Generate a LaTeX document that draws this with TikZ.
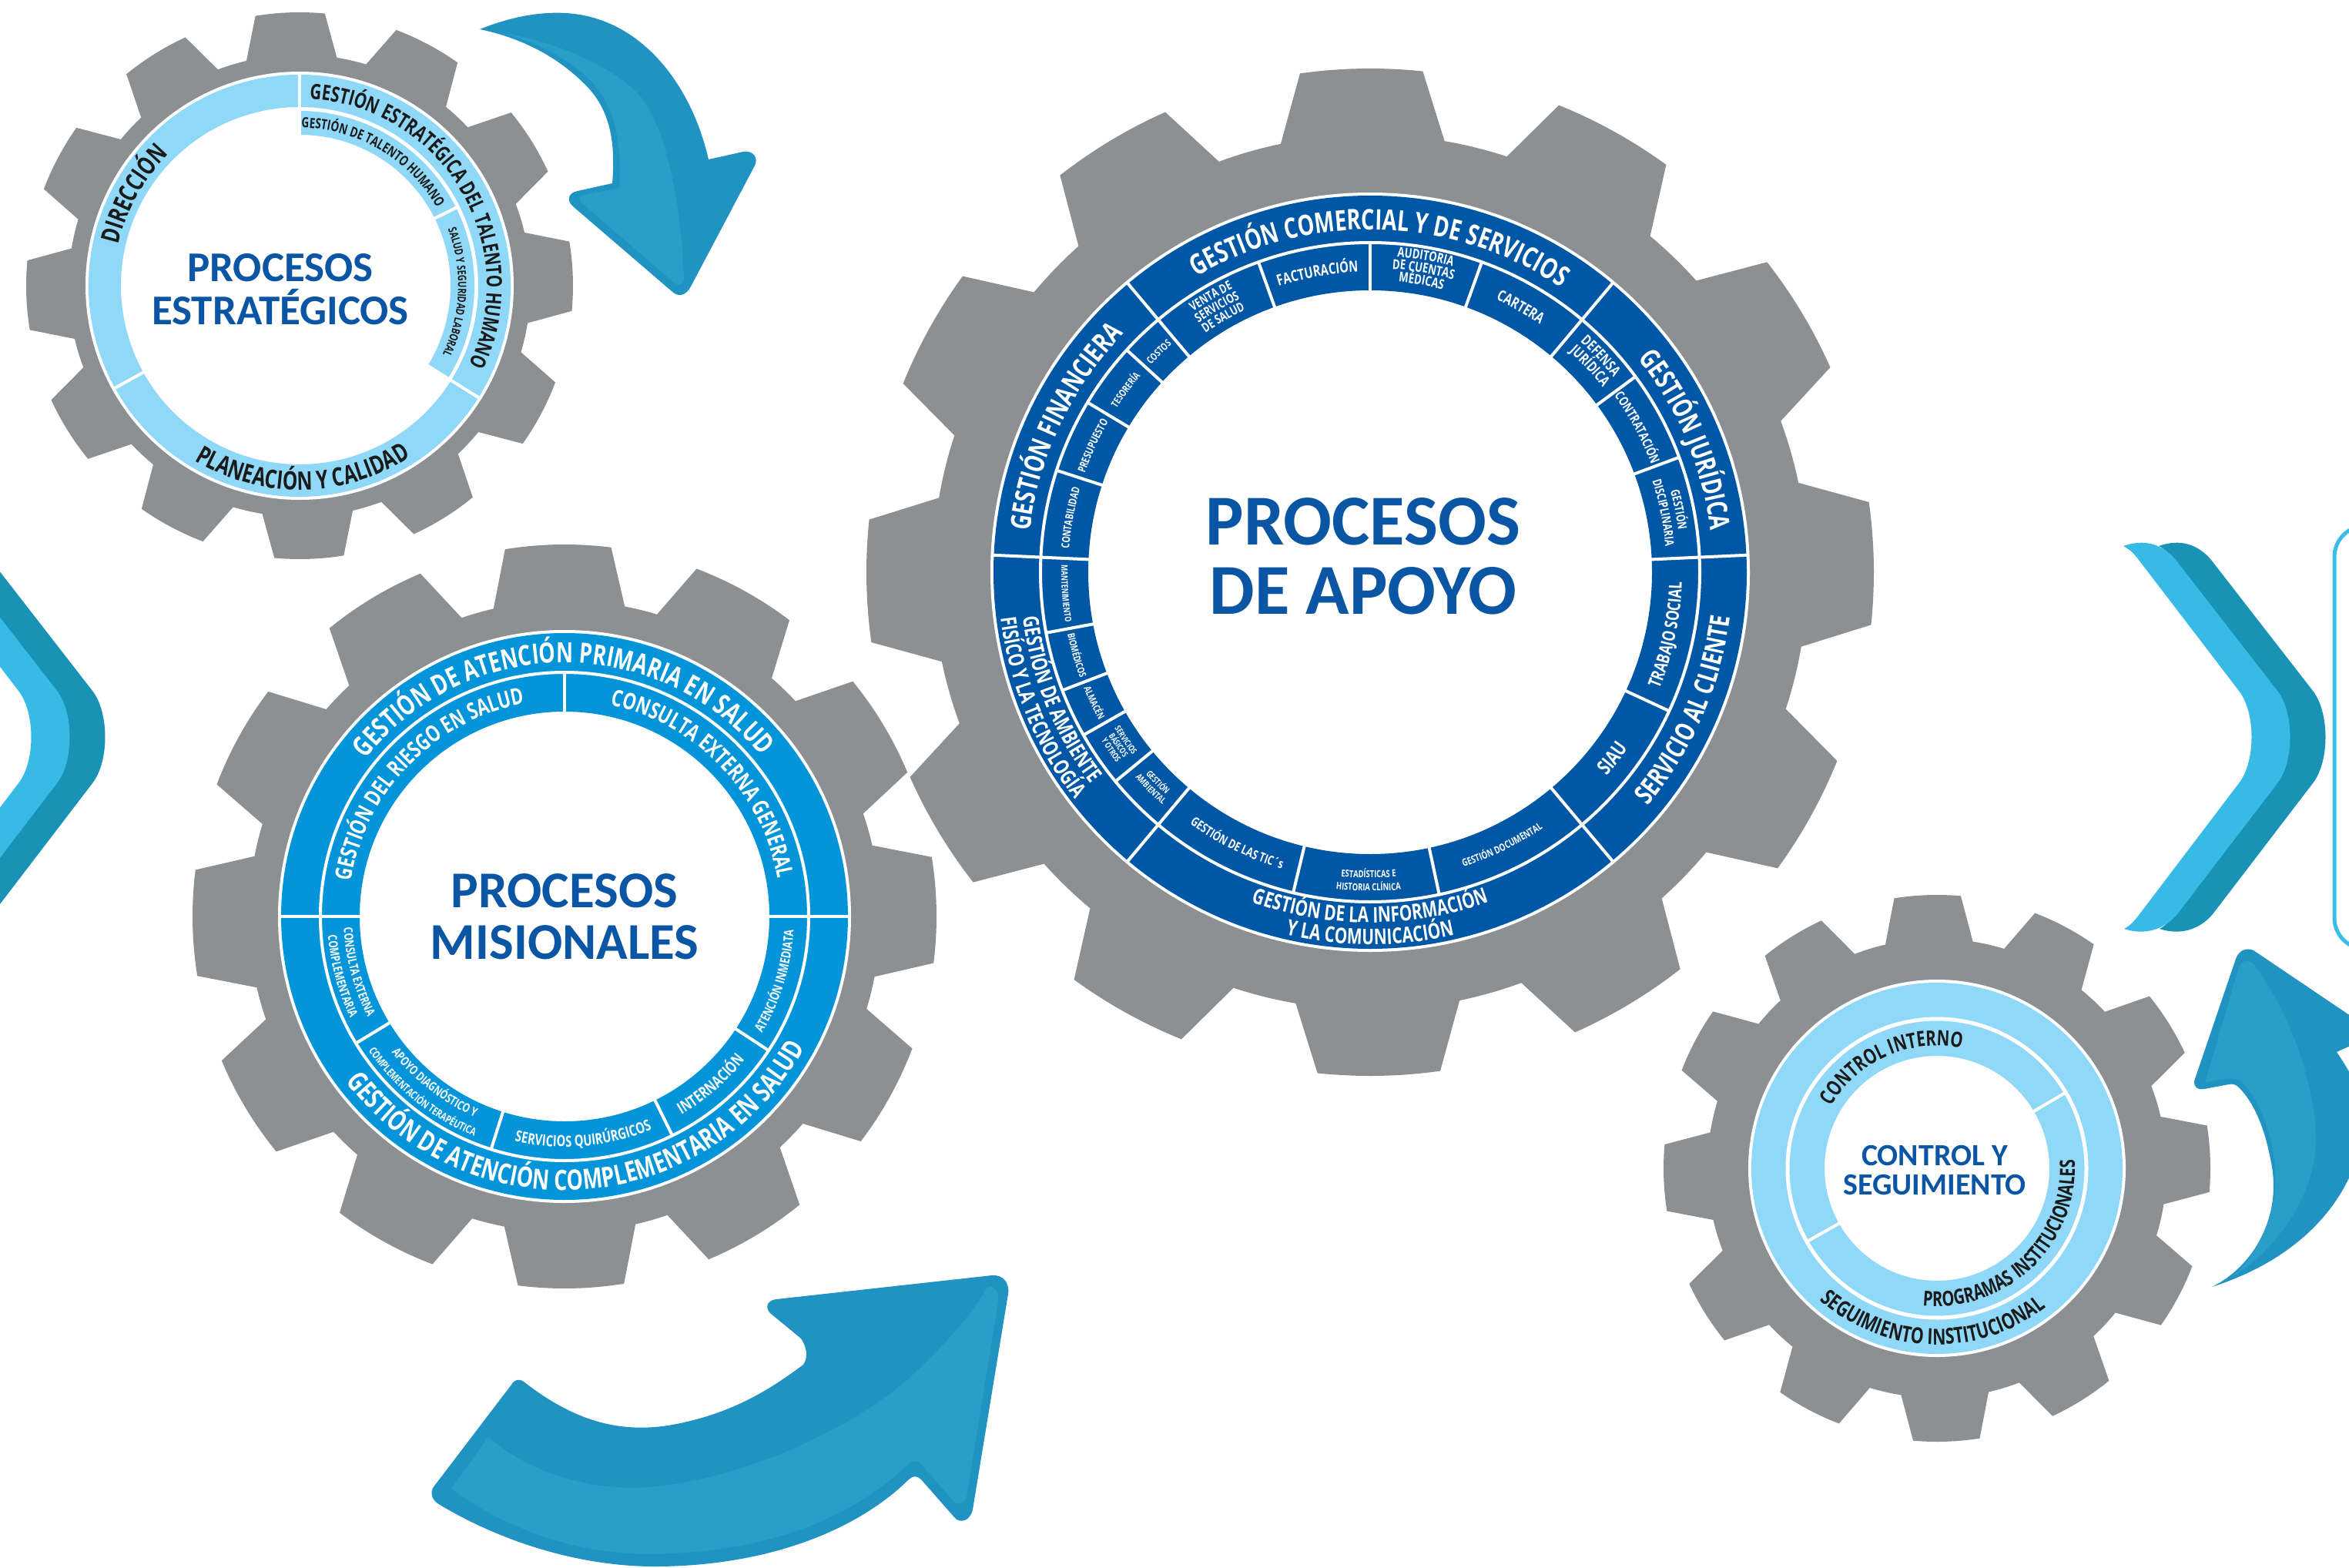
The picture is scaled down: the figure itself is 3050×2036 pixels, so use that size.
\documentclass[tikz,border=0pt]{standalone}
\usepackage{fontspec}
\setmainfont{Open Sans}[FakeStretch=0.745]
\newfontfamily\titlefont{Carlito}
\usetikzlibrary{decorations.text}
\definecolor{gearcol}{HTML}{8D9093}
\definecolor{ringlight}{HTML}{8FD8F7}
\definecolor{ringmid}{HTML}{0394D9}
\definecolor{ringdark}{HTML}{0057A6}
\definecolor{titleblue}{HTML}{0A55A4}
\definecolor{txtblack}{HTML}{1A1A1A}
\definecolor{arrdark}{HTML}{2193C2}
\definecolor{arrlight}{HTML}{2A9EC7}
\definecolor{chevlight}{HTML}{38BAE7}
\definecolor{chevdark}{HTML}{1893B5}
\definecolor{boxline}{HTML}{3BBDE9}
\newcommand\gearshape[5]{%
  \fill[gearcol] (0,0) circle[radius=#1];
  \foreach \k in {0,...,11}{%
    \pgfmathsetmacro\ga{#5+30*\k}
    \fill[gearcol] ({\ga-#3}:#1) -- ({\ga-#4}:#2) arc[start angle={\ga-#4},end angle={\ga+#4},radius=#2] -- ({\ga+#3}:#1) -- (\ga:{#1-50}) -- cycle;}}
\newcommand\seg[5]{\fill[#1] ({#4}:#3) arc[start angle={#4},end angle={#5},radius=#3] -- ({#5}:#2) arc[start angle={#5},end angle={#4},radius=#2] -- cycle;}
\newcommand\rad[3]{\draw[white,line width=4pt] (#1:#2) -- (#1:#3);}
\newcommand\cwt[6]{\path[decorate,decoration={text along path,text align=center,text color=#5,text={|\fontsize{\fpeval{#4*1.1}}{\fpeval{#4*1.1}}\selectfont\bfseries|#6}}] ({#2+#3}:#1) arc[start angle={#2+#3},end angle={#2-#3},radius=#1];}
\newcommand\ccwt[6]{\path[decorate,decoration={text along path,text align=center,text color=#5,text={|\fontsize{\fpeval{#4*1.1}}{\fpeval{#4*1.1}}\selectfont\bfseries|#6}}] ({#2-#3}:#1) arc[start angle={#2-#3},end angle={#2+#3},radius=#1];}
\newcommand\chevronpair{%
  \fill[chevdark] (2803,709) .. controls (2831,699) and (2854,707) .. (2871,727) -- (3003,897) .. controls (3025,925) and (3025,989) .. (3003,1017) -- (2873,1187) .. controls (2856,1207) and (2831,1215) .. (2804,1206) .. controls (2812,1202) and (2818,1195) .. (2824,1187) -- (2953,1017) .. controls (2975,989) and (2975,925) .. (2953,897) -- (2823,727) .. controls (2817,719) and (2811,713) .. (2803,709) -- cycle;
  \fill[chevlight] (2757,709) .. controls (2785,699) and (2808,707) .. (2825,727) -- (2957,897) .. controls (2979,925) and (2979,989) .. (2957,1017) -- (2827,1187) .. controls (2810,1207) and (2785,1215) .. (2758,1206) .. controls (2766,1202) and (2772,1195) .. (2778,1187) -- (2907,1017) .. controls (2929,989) and (2929,925) .. (2907,897) -- (2777,727) .. controls (2771,719) and (2765,713) .. (2757,709) -- cycle;}
\tikzset{ttl/.style={font=\titlefont\bfseries\fontsize{#1}{#1}\selectfont, text=titleblue, anchor=base, inner sep=0pt}}
\begin{document}
\begin{tikzpicture}[x=1pt,y=1pt]
\useasboundingbox (0,0) rectangle (3050,-2036);
\clip (0,0) rectangle (3050,-2036);
\fill[white] (0,0) rectangle (3050,-2036);

% ---------- Gear 1 : estrategicos
\begin{scope}[shift={(389,-371)}]
  \gearshape{300}{355}{11.3}{7.3}{92}
  \fill[white] (0,0) circle[radius=278];
  \seg{ringlight}{232}{274}{-32}{328}
  \seg{ringlight}{196}{227}{-32}{90}
  \rad{90}{194}{276} \rad{209}{230}{276} \rad{-32}{194}{276} \rad{26.5}{194}{229}
  \cwt{241}{151}{30}{30}{txtblack}{DIRECCIÓN}
  \cwt{243}{31}{70}{25}{txtblack}{GESTIÓN ESTRATÉGICA DEL TALENTO HUMANO}
  \ccwt{265}{271}{50}{30}{txtblack}{PLANEACIÓN Y CALIDAD}
  \cwt{205}{59.5}{40}{16.5}{txtblack}{GESTIÓN DE TALENTO HUMANO}
  \cwt{206}{-2.4}{35}{13.5}{txtblack}{SALUD Y SEGURIDAD LABORAL}
\end{scope}
\node[ttl=55] (t1a) at (364,-366) {PROCESOS};
\node[ttl=55] (t1b) at (364,-421) {ESTRATÉGICOS};

% ---------- Gear 2 : misionales
\begin{scope}[shift={(733,-1190)}]
  \gearshape{410}{483}{12}{8.2}{91}
  \fill[white] (0,0) circle[radius=372];
  \seg{ringmid}{266}{368}{0}{360}
  \draw[white,line width=4pt] (0,0) circle[radius=317];
  \rad{0}{264}{370} \rad{180}{264}{370} \rad{90}{264}{317}
  \rad{211.3}{264}{317} \rad{252.5}{264}{317} \rad{296.2}{264}{317} \rad{326.7}{264}{317}
  \cwt{329.5}{90.4}{70}{33}{white}{GESTIÓN DE ATENCIÓN PRIMARIA EN SALUD}
  \ccwt{355.5}{274.2}{80}{33}{white}{GESTIÓN DE ATENCIÓN COMPLEMENTARIA EN SALUD}
  \cwt{281}{135.6}{45}{27}{white}{GESTIÓN DEL RIESGO EN SALUD}
  \cwt{281}{43.9}{45}{27}{white}{CONSULTA EXTERNA GENERAL}
  \ccwt{287}{195}{17}{14.5}{white}{CONSULTA EXTERNA}
  \ccwt{308}{195}{17}{14.5}{white}{COMPLEMENTARIA}
  \ccwt{285.5}{232}{22}{14.5}{white}{APOYO DIAGNÓSTICO Y}
  \ccwt{308.5}{231}{24}{12.7}{white}{COMPLEMENTACIÓN TERAPÉUTICA}
  \ccwt{299}{274.9}{25}{18}{white}{SERVICIOS QUIRÚRGICOS}
  \ccwt{299}{311}{16}{19}{white}{INTERNACIÓN}
  \ccwt{298}{343}{18}{15.5}{white}{ATENCIÓN INMEDIATA}
\end{scope}
\node[ttl=67] (t2a) at (733,-1178) {PROCESOS};
\node[ttl=67] (t2b) at (733,-1245) {MISIONALES};

% ---------- Gear 3 : apoyo
\begin{scope}[shift={(1779,-743)}]
  \gearshape{568}{654}{10.8}{7}{91}
  \fill[white] (0,0) circle[radius=493];
  \seg{ringdark}{366}{489}{0}{360}
  \draw[white,line width=4pt] (0,0) circle[radius=428];
  \foreach \a in {2.6,50,130,177.4,230,310}{\rad{\a}{364}{491}}
  \foreach \a in {20.4,36.4,70.2,90,109.8,137.6,149,162,190.6,201,209.6,219.4,256.5,282.1,335.1}{\rad{\a}{364}{428}}
  \cwt{445}{88.3}{45}{33.5}{white}{GESTIÓN COMERCIAL Y DE SERVICIOS}
  \cwt{445}{22.8}{22}{33}{white}{GESTIÓN JURÍDICA}
  \cwt{445}{154.5}{25}{33}{white}{GESTIÓN FINANCIERA}
  \ccwt{471}{-23.6}{23}{32}{white}{SERVICIO AL CLIENTE}
  \ccwt{455}{202.3}{22}{25.5}{white}{GESTIÓN DE AMBIENTE}
  \ccwt{483.5}{202.3}{22}{25.5}{white}{FISÍCO Y LA TECNOLOGÍA}
  \ccwt{455}{270}{28}{25.5}{white}{GESTIÓN DE LA INFORMACIÓN}
  \ccwt{483.5}{270}{20}{25.5}{white}{Y LA COMUNICACIÓN}
  \cwt{409}{120}{11}{15}{white}{VENTA DE}
  \cwt{393}{120}{11}{15}{white}{SERVICIOS}
  \cwt{377}{120}{11}{15}{white}{DE SALUD}
  \cwt{390}{100}{12}{18}{white}{FACTURACIÓN}
  \cwt{411}{80}{11}{16}{white}{AUDITORIA}
  \cwt{395}{80}{11}{16}{white}{DE CUENTAS}
  \cwt{379}{80}{11}{16}{white}{MÉDICAS}
  \cwt{390}{60.4}{8}{18}{white}{CARTERA}
  \cwt{405}{43.2}{9}{17.3}{white}{DEFENSA}
  \cwt{386}{43.2}{9}{17.3}{white}{JURÍDICA}
  \cwt{391}{28.4}{10}{15.5}{white}{CONTRATACIÓN}
  \cwt{404}{11.5}{10}{14.5}{white}{GESTIÓN}
  \cwt{385}{11.5}{10}{14.5}{white}{DISCIPLINARIA}
  \ccwt{405}{-11.9}{14}{21}{white}{TRABAJO SOCIAL}
  \ccwt{406}{-37.5}{8}{24}{white}{SIAU}
  \ccwt{401}{-64.2}{12}{12}{white}{GESTIÓN DOCUMENTAL}
  \ccwt{397}{269.7}{10}{11.5}{white}{ESTADÍSTICAS E}
  \ccwt{414}{269.7}{10}{11.5}{white}{HISTORIA CLÍNICA}
  \ccwt{402}{243.9}{13}{15}{white}{GESTIÓN DE LAS TIC´s}
  \ccwt{392}{224.7}{8}{10.5}{white}{GESTIÓN}
  \ccwt{405}{224.7}{8}{10.5}{white}{AMBIENTAL}
  \ccwt{389}{214.5}{7}{10}{white}{SERVICIOS}
  \ccwt{400.5}{214.5}{7}{10}{white}{BÁSICOS}
  \ccwt{412}{214.5}{7}{10}{white}{Y OTROS}
  \ccwt{401}{205.3}{6}{11.5}{white}{ALMACÉN}
  \ccwt{401}{195.8}{7}{11.5}{white}{BIOMÉDICOS}
  \ccwt{401}{184}{8}{10.5}{white}{MANTENIMIENTO}
  \cwt{392}{169.7}{9}{12.9}{white}{CONTABILIDAD}
  \cwt{392}{155.5}{8}{12.9}{white}{PRESUPUESTO}
  \cwt{392}{143.3}{7}{11.8}{white}{TESORERÍA}
  \cwt{392}{133.8}{5}{11.8}{white}{COSTOS}
\end{scope}
\node[ttl=93] (t3a) at (1770,-707) {PROCESOS};
\node[ttl=93] (t3b) at (1770,-797) {DE APOYO};

% ---------- Gear 4 : control
\begin{scope}[shift={(2515,-1517)}]
  \gearshape{298}{355}{11}{7}{92}
  \fill[white] (0,0) circle[radius=245];
  \seg{ringlight}{146}{241}{0}{360}
  \draw[white,line width=5pt] (0,0) circle[radius=194];
  \rad{30.5}{144}{194} \rad{209.4}{144}{194}
  \ccwt{229}{268.3}{55}{26}{txtblack}{SEGUIMIENTO INSTITUCIONAL}
  \ccwt{179}{313.8}{65}{24.5}{txtblack}{PROGRAMAS INSTITUCIONALES}
  \cwt{159}{114}{50}{25}{txtblack}{CONTROL INTERNO}
\end{scope}
\node[ttl=40] (t4a) at (2512,-1513) {CONTROL Y};
\node[ttl=40] (t4b) at (2512,-1551) {SEGUIMIENTO};

% ---------- arrows, chevrons, box (image coordinates)
\begin{scope}[yscale=-1]
  % top arrow
  \fill[arrdark] (623,38) .. controls (680,15) and (740,8) .. (790,30) .. controls (850,55) and (900,120) .. (920,207) -- (965,197) .. controls (978,195) and (985,205) .. (980,215) -- (897,372) .. controls (890,385) and (880,386) .. (872,378) -- (744,268) .. controls (735,260) and (738,250) .. (750,248) -- (795,238) .. controls (800,180) and (790,140) .. (760,110) .. controls (725,75) and (680,50) .. (623,38) -- cycle;
  \fill[arrlight] (645,42) .. controls (720,52) and (800,88) .. (833,127) .. controls (865,170) and (884,260) .. (888,362) .. controls (888,370) and (880,372) .. (874,366) -- (756,264) .. controls (750,259) and (752,254) .. (758,253) -- (804,244) .. controls (808,180) and (797,135) .. (765,103) .. controls (730,70) and (690,52) .. (645,42) -- cycle;
  % bottom arrow
  \fill[arrdark] (680,1794) .. controls (745,1845) and (805,1862) .. (873,1850) .. controls (955,1835) and (1005,1800) .. (1043,1772) .. controls (1050,1762) and (1047,1748) .. (1040,1738) -- (1000,1705) .. controls (992,1696) and (998,1688) .. (1008,1687) -- (1288,1656) .. controls (1302,1655) and (1311,1665) .. (1309,1680) -- (1263,1960) .. controls (1260,1975) and (1246,1979) .. (1239,1970) -- (1196,1921) .. controls (1191,1916) and (1185,1916) .. (1180,1921) .. controls (1110,1990) and (990,2035) .. (844,2034) .. controls (730,2032) and (630,1990) .. (568,1952) .. controls (560,1946) and (559,1938) .. (562,1932) -- (664,1798) .. controls (668,1791) and (674,1790) .. (680,1794) -- cycle;
  \fill[arrlight] (586,1933) -- (634,1866) .. controls (690,1915) and (770,1936) .. (844,1931) .. controls (960,1921) and (1100,1860) .. (1180,1790) .. controls (1232,1742) and (1265,1702) .. (1280,1674) .. controls (1287,1666) and (1297,1674) .. (1296,1690) -- (1255,1944) .. controls (1252,1953) and (1243,1955) .. (1237,1948) -- (1198,1903) .. controls (1192,1896) and (1183,1896) .. (1177,1903) .. controls (1100,1976) and (990,2016) .. (844,2018) .. controls (740,2018) and (650,1980) .. (586,1933) -- cycle;
  % right bottom arrow
  \fill[arrdark] (2872,1671) .. controls (2925,1645) and (2965,1580) .. (2948,1505) .. controls (2940,1462) and (2925,1430) .. (2907,1412) .. controls (2903,1408) and (2899,1407) .. (2894,1408) -- (2862,1414) .. controls (2851,1416) and (2846,1408) .. (2851,1398) -- (2903,1245) .. controls (2907,1234) and (2916,1230) .. (2926,1234) -- (3080,1338) -- (3080,1345) -- (3034,1366) .. controls (3050,1390) and (3062,1410) .. (3070,1440) .. controls (3070,1540) and (3000,1630) .. (2872,1671) -- cycle;
  \fill[arrlight] (2863,1406) -- (2907,1256) .. controls (2911,1246) and (2921,1246) .. (2927,1253) .. controls (2962,1300) and (3000,1380) .. (3007,1468) .. controls (3012,1540) and (2962,1620) .. (2897,1659) .. controls (2932,1628) and (2962,1570) .. (2953,1505) .. controls (2946,1458) and (2930,1424) .. (2910,1404) .. controls (2902,1398) and (2885,1400) .. (2863,1406) -- cycle;
  % chevrons
  \chevronpair
  \begin{scope}[xshift=-2883pt]\chevronpair\end{scope}
  % box at right edge
  \draw[boxline,line width=5pt,rounded corners=40pt] (3031,683) rectangle (3150,1232);
\end{scope}
\end{tikzpicture}
\end{document}
